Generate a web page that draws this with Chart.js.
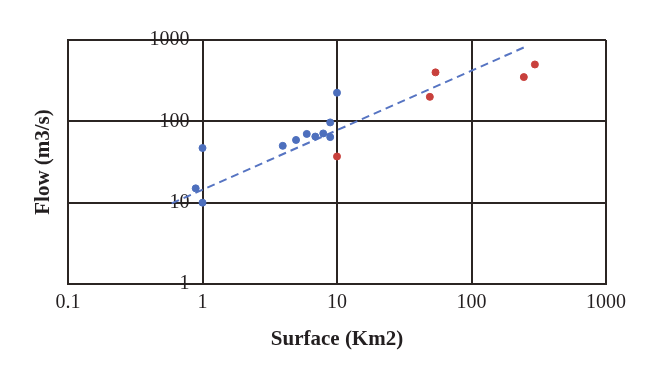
<!DOCTYPE html>
<html>
<head>
<meta charset="utf-8">
<script src="https://cdn.jsdelivr.net/npm/chart.js@4"></script>
<style>
  html, body { margin: 0; padding: 0; background: #fff; }
  #wrap { width: 660px; height: 380px; }
</style>
</head>
<body>
<div id="wrap"><canvas id="flowChart"></canvas></div>
<script>
const xTicks = [0.1, 1, 10, 100, 1000];
const yTicks = [1, 10, 100, 1000];

const blueSurface = [1, 0.89, 1, 3.95, 4.96, 5.96, 6.9, 7.9, 8.9, 8.9, 10];
const blueFlow = [47, 15, 10, 50, 59, 70, 65, 71, 64, 97, 225];

const redSurface = [10, 49, 54, 245, 296];
const redFlow = [37, 200, 400, 350, 500];

const trendSurface = [0.59, 262];
const trendFlow = [9.8, 850];

const pts = (xs, ys) => xs.map((x, i) => ({ x: x, y: ys[i] }));
const gridColor = "#2b2523";
const serif = "'Liberation Serif', 'DejaVu Serif', serif";

const canvas = document.getElementById("flowChart");

new Chart(canvas, {
  type: "scatter",
  data: {
    datasets: [
      {
        label: "Blue",
        data: pts(blueSurface, blueFlow),
        backgroundColor: "#4d6fbd",
        borderColor: "#4d6fbd",
        pointRadius: 3.5,
        order: 1,
      },
      {
        label: "Red",
        data: pts(redSurface, redFlow),
        backgroundColor: "#c8403c",
        borderColor: "#c8403c",
        pointRadius: 3.5,
        order: 1,
      },
      {
        label: "Trend",
        data: pts(trendSurface, trendFlow),
        showLine: true,
        pointRadius: 0,
        borderColor: "#5674c2",
        borderWidth: 2,
        borderDash: [8, 5],
        order: 2,
      },
    ],
  },
  options: {
    responsive: true,
    maintainAspectRatio: false,
    animation: false,
    layout: { padding: { top: 40, right: 54, left: 0, bottom: 0 } },
    scales: {
      x: {
        type: "logarithmic",
        min: 0.1,
        max: 1000,
        afterBuildTicks: (s) => { s.ticks = xTicks.map((v) => ({ value: v })); },
        afterFit: (s) => { s.height = 96; },
        ticks: {
          color: "#231f20",
          padding: 7,
          font: { family: serif, size: 20 },
          callback: (v) => String(v),
        },
        grid: { color: gridColor, lineWidth: 2, drawTicks: false },
        border: { color: gridColor, width: 2 },
        title: {
          display: true,
          text: "Surface (Km2)",
          color: "#231f20",
          font: { family: serif, size: 21, weight: "bold" },
          padding: { top: 0, bottom: 28 },
        },
      },
      y: {
        type: "logarithmic",
        position: "left",
        min: 1,
        max: 1000,
        afterBuildTicks: (s) => { s.ticks = yTicks.map((v) => ({ value: v })); },
        afterFit: (s) => { s.width = 68; },
        ticks: { display: false },
        grid: { color: gridColor, lineWidth: 2, drawTicks: false },
        border: { color: gridColor, width: 2 },
        title: {
          display: true,
          text: "Flow (m3/s)",
          color: "#231f20",
          font: { family: serif, size: 21, weight: "bold" },
          padding: { top: 31, bottom: 0 },
        },
      },
      // tick labels sit just left of the x = 1 gridline, as in the original
      yLabels: {
        type: "logarithmic",
        position: { x: 0.8 },
        min: 1,
        max: 1000,
        afterBuildTicks: (s) => { s.ticks = yTicks.map((v) => ({ value: v })); },
        ticks: {
          color: "#231f20",
          font: { family: serif, size: 20 },
          callback: (v) => String(v),
        },
        grid: { display: false, drawTicks: false },
        border: { display: false },
      },
    },
    plugins: { legend: { display: false }, tooltip: { enabled: false } },
  },
});
</script>
</body>
</html>
